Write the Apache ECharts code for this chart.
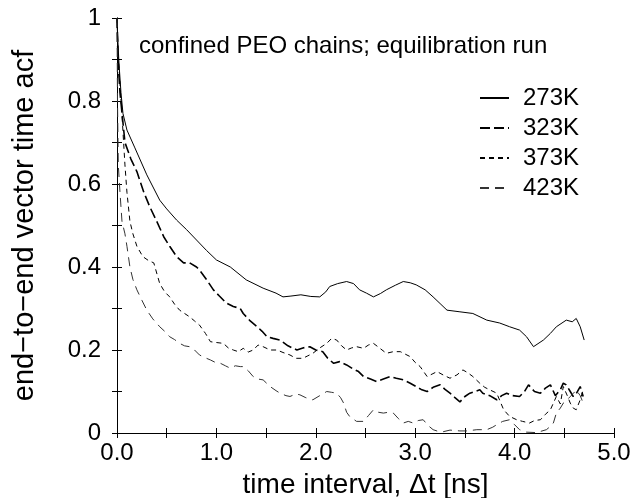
<!DOCTYPE html>
<html><head><meta charset="utf-8">
<script src="https://cdn.jsdelivr.net/npm/echarts@6/dist/echarts.min.js"></script>
<style>html,body{margin:0;padding:0;background:#fff}#c{width:633px;height:498px}</style>
</head><body><div id="c"></div>
<script>
const seriesNames = ['273K', '323K', '373K', '423K'];
const t273 = [0,0.01,0.02,0.04,0.06,0.1,0.18,0.3,0.43,0.5,0.6,0.7,0.8,0.9,1.0,1.14,1.3,1.47,1.6,1.67,1.75,1.85,1.95,2.04,2.1,2.14,2.22,2.31,2.38,2.44,2.51,2.58,2.65,2.71,2.8,2.88,2.95,3.01,3.1,3.18,3.25,3.32,3.45,3.58,3.72,3.85,3.95,4.05,4.12,4.19,4.29,4.36,4.42,4.52,4.58,4.62,4.66,4.70];
const v273 = [1,0.94,0.89,0.82,0.77,0.73,0.687,0.622,0.561,0.54,0.513,0.49,0.465,0.44,0.417,0.40,0.369,0.349,0.337,0.328,0.33,0.333,0.329,0.328,0.34,0.353,0.36,0.365,0.36,0.345,0.337,0.328,0.336,0.345,0.356,0.365,0.362,0.357,0.345,0.328,0.312,0.296,0.292,0.288,0.272,0.265,0.256,0.248,0.232,0.208,0.224,0.24,0.256,0.272,0.268,0.276,0.256,0.224];
const t323 = [0,0.01,0.03,0.08,0.14,0.2,0.27,0.33,0.4,0.47,0.53,0.6,0.67,0.73,0.8,0.83,0.9,0.97,1.03,1.1,1.17,1.24,1.27,1.34,1.41,1.46,1.51,1.57,1.64,1.72,1.81,1.87,1.94,2.0,2.07,2.12,2.18,2.24,2.31,2.37,2.43,2.48,2.55,2.61,2.68,2.75,2.81,2.88,2.95,3.01,3.06,3.12,3.18,3.25,3.3,3.35,3.4,3.45,3.5,3.55,3.6,3.65,3.68,3.75,3.82,3.87,3.92,3.98,4.05,4.1,4.14,4.2,4.26,4.31,4.36,4.41,4.46,4.49,4.52,4.56,4.59,4.62,4.66,4.69];
const v323 = [1,0.9,0.82,0.70,0.66,0.63,0.58,0.545,0.51,0.473,0.45,0.425,0.41,0.41,0.40,0.393,0.37,0.345,0.33,0.313,0.305,0.30,0.288,0.27,0.256,0.245,0.232,0.228,0.224,0.21,0.20,0.205,0.208,0.2,0.196,0.18,0.168,0.172,0.164,0.155,0.148,0.136,0.13,0.124,0.13,0.136,0.132,0.128,0.12,0.112,0.105,0.10,0.11,0.116,0.105,0.096,0.085,0.075,0.088,0.096,0.1,0.104,0.096,0.09,0.08,0.09,0.096,0.09,0.088,0.1,0.116,0.1,0.096,0.108,0.116,0.09,0.104,0.12,0.116,0.1,0.088,0.095,0.112,0.088];
const t373 = [0,0.01,0.03,0.05,0.08,0.1,0.13,0.16,0.2,0.26,0.32,0.37,0.43,0.48,0.53,0.58,0.63,0.68,0.73,0.78,0.83,0.89,0.94,1.0,1.07,1.12,1.17,1.22,1.27,1.32,1.37,1.42,1.47,1.54,1.61,1.67,1.74,1.8,1.87,1.92,1.97,2.04,2.11,2.16,2.21,2.26,2.31,2.36,2.41,2.48,2.53,2.58,2.64,2.71,2.78,2.85,2.9,2.95,3.0,3.05,3.12,3.17,3.22,3.28,3.35,3.42,3.48,3.53,3.58,3.65,3.7,3.75,3.82,3.89,3.95,4.02,4.08,4.15,4.2,4.26,4.31,4.36,4.42,4.46,4.49,4.53,4.56,4.59,4.62,4.66,4.69];
const v373 = [1,0.92,0.84,0.766,0.646,0.58,0.51,0.48,0.45,0.425,0.415,0.41,0.36,0.34,0.328,0.31,0.296,0.288,0.28,0.27,0.26,0.24,0.22,0.218,0.216,0.205,0.20,0.196,0.204,0.195,0.2,0.212,0.208,0.2,0.2,0.194,0.188,0.18,0.18,0.186,0.192,0.205,0.216,0.228,0.224,0.21,0.20,0.205,0.208,0.204,0.212,0.216,0.205,0.192,0.196,0.196,0.19,0.184,0.17,0.16,0.136,0.142,0.148,0.14,0.132,0.14,0.152,0.145,0.136,0.12,0.11,0.104,0.096,0.056,0.04,0.032,0.028,0.024,0.03,0.032,0.045,0.056,0.088,0.07,0.112,0.09,0.072,0.06,0.056,0.08,0.104];
const t423 = [0,0.005,0.013,0.03,0.05,0.08,0.1,0.13,0.16,0.2,0.25,0.3,0.36,0.43,0.48,0.53,0.58,0.63,0.68,0.73,0.78,0.83,0.88,0.94,0.99,1.04,1.09,1.14,1.19,1.24,1.27,1.32,1.37,1.42,1.47,1.54,1.6,1.64,1.7,1.74,1.8,1.84,1.9,1.97,2.04,2.11,2.16,2.21,2.25,2.28,2.31,2.34,2.41,2.48,2.53,2.58,2.63,2.68,2.73,2.78,2.83,2.88,2.93,2.98,3.03,3.08,3.13,3.18,3.23,3.28,3.35,3.45,3.52,3.62,3.72,3.78,3.82,3.88,3.95,4.0,4.05,4.12,4.22,4.32,4.36,4.39,4.42,4.46,4.49,4.53,4.56,4.59,4.62,4.66,4.69];
const v423 = [1,0.8,0.646,0.58,0.51,0.48,0.45,0.40,0.37,0.345,0.32,0.296,0.275,0.256,0.245,0.232,0.225,0.216,0.21,0.208,0.2,0.188,0.182,0.176,0.17,0.168,0.162,0.156,0.162,0.16,0.16,0.15,0.136,0.13,0.128,0.112,0.102,0.096,0.09,0.088,0.094,0.092,0.085,0.08,0.09,0.10,0.098,0.096,0.085,0.072,0.05,0.04,0.028,0.028,0.042,0.056,0.05,0.048,0.05,0.048,0.035,0.024,0.028,0.024,0.03,0.032,0.018,0.008,0.004,0.003,0.007,0.005,0.005,0.008,0.008,0.014,0.02,0.028,0.032,0.02,0.008,0.002,0.001,0.008,0.016,0.024,0.048,0.06,0.072,0.08,0.088,0.095,0.104,0.09,0.072];
const xTicks = [0, 1, 2, 3, 4, 5];
const yTicks = [0, 0.2, 0.4, 0.6, 0.8, 1];

const zip = (t, v) => t.map((x, i) => [x, v[i]]);
const styles = [
  { width: 1, type: 'solid', color: '#000' },
  { width: 1.6, type: [10, 4], color: '#000' },
  { width: 1, type: [5, 4], color: '#000' },
  { width: 1, type: [9, 6], color: '#333' }
];
const allT = [t273, t323, t373, t423];
const allV = [v273, v323, v373, v423];
const FONT = 'Liberation Sans';
const chart = echarts.init(document.getElementById('c'), null, { renderer: 'canvas' });
const axisCommon = {
  axisLine: { show: true, lineStyle: { color: '#000', width: 1 } },
  splitLine: { show: false },
  axisTick: { show: true, inside: true, length: 5, lineStyle: { color: '#000' } },
  minorTick: { show: true, splitNumber: 2, length: 5, lineStyle: { color: '#000' } }
};
chart.setOption({
  animation: false,
  backgroundColor: '#fff',
  grid: { left: 117, right: 19, top: 18, bottom: 65, containLabel: false, outerBoundsMode: 'none' },
  title: {
    text: 'confined PEO chains; equilibration run',
    left: 139, top: 34, padding: 0,
    textStyle: { fontFamily: FONT, fontSize: 24, fontWeight: 'normal', color: '#000' }
  },
  legend: {
    orient: 'vertical', left: 479, top: 83, padding: 0,
    itemWidth: 29, itemHeight: 14, itemGap: 0,
    itemStyle: { opacity: 0 },
    textStyle: { fontFamily: FONT, fontSize: 24, color: '#000', lineHeight: 30, padding: [0, 0, 0, 9] },
    data: seriesNames
  },
  xAxis: [
    Object.assign({}, axisCommon, {
      type: 'value', min: xTicks[0], max: xTicks[xTicks.length - 1], interval: 1,
      name: 'time interval, Δt [ns]', nameLocation: 'middle', nameGap: 38,
      nameTextStyle: { fontFamily: FONT, fontSize: 28, color: '#000' },
      axisLabel: { fontFamily: FONT, fontSize: 24, color: '#000', margin: 8, formatter: v => v.toFixed(1) }
    }),
    Object.assign({}, axisCommon, {
      type: 'value', position: 'top', min: xTicks[0], max: xTicks[xTicks.length - 1], interval: 1,
      axisLabel: { show: false }
    })
  ],
  yAxis: [
    Object.assign({}, axisCommon, {
      type: 'value', min: yTicks[0], max: yTicks[yTicks.length - 1], interval: 0.2,
      name: 'end−to−end vector time acf', nameLocation: 'middle', nameGap: 78,
      nameTextStyle: { fontFamily: FONT, fontSize: 29, color: '#000' },
      axisLabel: { fontFamily: FONT, fontSize: 24, color: '#000', margin: 16 }
    }),
    Object.assign({}, axisCommon, {
      type: 'value', position: 'right', min: yTicks[0], max: yTicks[yTicks.length - 1], interval: 0.2,
      axisLabel: { show: false }
    })
  ],
  series: seriesNames.map((n, i) => ({
    name: n, type: 'line', xAxisIndex: 0, yAxisIndex: 0,
    data: zip(allT[i], allV[i]),
    showSymbol: false, symbol: 'none',
    clip: true,
    lineStyle: { color: styles[i].color, width: styles[i].width, type: styles[i].type },
    itemStyle: { color: styles[i].color }
  }))
});
</script></body></html>
